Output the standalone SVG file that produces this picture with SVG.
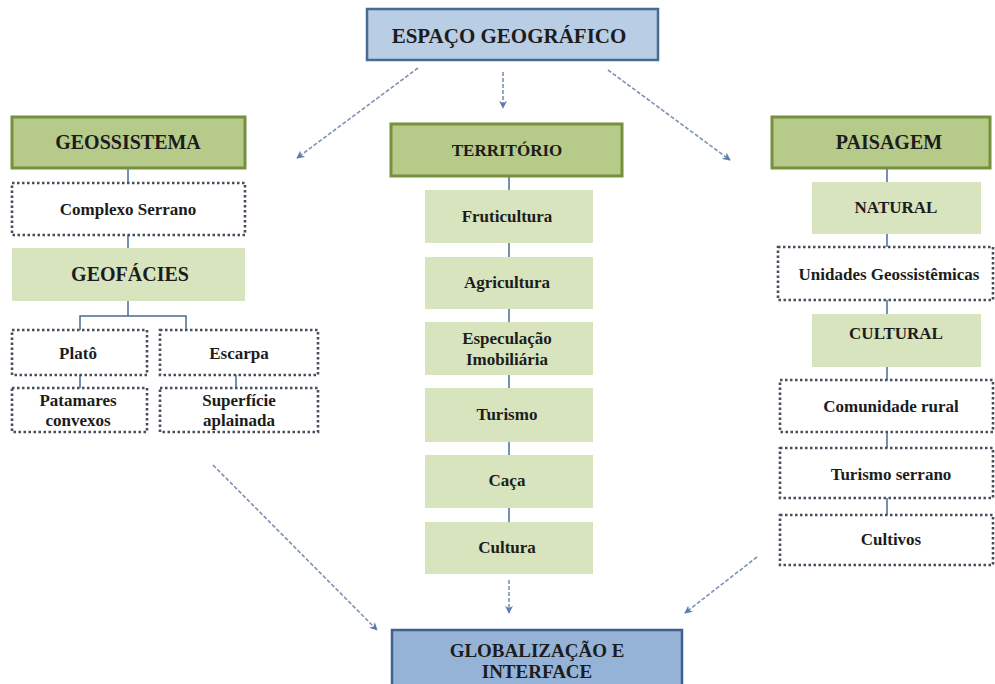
<svg xmlns="http://www.w3.org/2000/svg" width="995" height="684" viewBox="0 0 995 684">
<defs>
<marker id="ah" viewBox="0 0 10 10" refX="9" refY="5" markerWidth="8" markerHeight="8" markerUnits="userSpaceOnUse" orient="auto">
<path d="M0,0 L10,5 L0,10 L3,5 z" fill="#5b7cab"/>
</marker>
<style>
.blue{fill:#b9cde5;stroke:#4a6a96;stroke-width:2.5}
.blue2{fill:#95b3d7;stroke:#3f5f8c;stroke-width:2.5}
.head{fill:#b6ca89;stroke:#76903e;stroke-width:3}
.light{fill:#d8e4bd;stroke:none}
.dot{fill:#ffffff;stroke:#454e5c;stroke-width:2.6;stroke-dasharray:2.5 2.5}
text{font-family:"Liberation Serif","DejaVu Serif",serif;font-weight:bold;fill:#1c1c1c;text-anchor:middle}
.t20{font-size:20px}
.t19{font-size:19px}
.t17{font-size:17px}
.ln{stroke:#4a6b94;stroke-width:1.5;fill:none}
.ar{stroke:#7d92b2;stroke-width:1.6;stroke-dasharray:4 2;fill:none;marker-end:url(#ah)}
</style>
</defs>
<rect width="995" height="684" fill="#ffffff"/>

<g id="connectors">
<line class="ln" x1="128" y1="168" x2="128" y2="183"/>
<line class="ln" x1="128" y1="235" x2="128" y2="248"/>
<polyline class="ln" points="128,301 128,316"/>
<polyline class="ln" points="80,330 80,316 186,316 186,330"/>
<line class="ln" x1="80" y1="375" x2="80" y2="388"/>
<line class="ln" x1="236" y1="375" x2="236" y2="388"/>
<line class="ln" x1="509" y1="176" x2="509" y2="190"/>
<line class="ln" x1="509" y1="243" x2="509" y2="257"/>
<line class="ln" x1="509" y1="309" x2="509" y2="322"/>
<line class="ln" x1="509" y1="375" x2="509" y2="388"/>
<line class="ln" x1="509" y1="442" x2="509" y2="455"/>
<line class="ln" x1="509" y1="508" x2="509" y2="522"/>
<line class="ln" x1="887" y1="168" x2="887" y2="182"/>
<line class="ln" x1="887" y1="234" x2="887" y2="247"/>
<line class="ln" x1="887" y1="300" x2="887" y2="314"/>
<line class="ln" x1="887" y1="367" x2="887" y2="380"/>
<line class="ln" x1="887" y1="432" x2="887" y2="448"/>
<line class="ln" x1="887" y1="498" x2="887" y2="515"/>
<line class="ar" x1="418" y1="68" x2="297" y2="158"/>
<line class="ar" x1="503" y1="72" x2="503" y2="108"/>
<line class="ar" x1="608" y1="70" x2="730" y2="160"/>
<line class="ar" x1="213" y1="465" x2="377" y2="630"/>
<line class="ar" x1="509" y1="580" x2="509" y2="613"/>
<line class="ar" x1="757" y1="557" x2="685" y2="613"/>
</g>

<g id="espaco"><rect class="blue" x="367" y="9" width="291" height="51"/><text x="509" y="43" style="font-size:21px">ESPAÇO GEOGRÁFICO</text></g>

<g id="geossistema"><rect class="head" x="12" y="117" width="233" height="51"/><text class="t20" x="128" y="149">GEOSSISTEMA</text></g>
<g id="complexo"><rect class="dot" x="12" y="183" width="233" height="52"/><text class="t17" x="128" y="215">Complexo Serrano</text></g>
<g id="geofacies"><rect class="light" x="12" y="248" width="233" height="53"/><text class="t20" x="130" y="281">GEOFÁCIES</text></g>
<g id="plato"><rect class="dot" x="12" y="330" width="135" height="45"/><text class="t17" x="78" y="359">Platô</text></g>
<g id="escarpa"><rect class="dot" x="160" y="330" width="158" height="45"/><text class="t17" x="239" y="359">Escarpa</text></g>
<g id="patamares"><rect class="dot" x="12" y="388" width="135" height="44"/><text class="t17" x="78" y="406">Patamares</text><text class="t17" x="78" y="426">convexos</text></g>
<g id="superficie"><rect class="dot" x="160" y="388" width="158" height="44"/><text class="t17" x="239" y="406">Superfície</text><text class="t17" x="239" y="426">aplainada</text></g>

<g id="territorio"><rect class="head" x="391" y="124" width="231" height="52"/><text class="t17" x="507" y="156">TERRITÓRIO</text></g>
<g id="fruticultura"><rect class="light" x="425" y="190" width="168" height="53"/><text class="t17" x="507" y="222">Fruticultura</text></g>
<g id="agricultura"><rect class="light" x="425" y="257" width="168" height="52"/><text class="t17" x="507" y="288">Agricultura</text></g>
<g id="especulacao"><rect class="light" x="425" y="322" width="168" height="53"/><text class="t17" x="507" y="344">Especulação</text><text class="t17" x="507" y="365">Imobiliária</text></g>
<g id="turismo"><rect class="light" x="425" y="388" width="168" height="54"/><text class="t17" x="507" y="420">Turismo</text></g>
<g id="caca"><rect class="light" x="425" y="455" width="168" height="53"/><text class="t17" x="507" y="486">Caça</text></g>
<g id="cultura"><rect class="light" x="425" y="522" width="168" height="52"/><text class="t17" x="507" y="553">Cultura</text></g>

<g id="paisagem"><rect class="head" x="772" y="117" width="218" height="51"/><text class="t20" x="889" y="149">PAISAGEM</text></g>
<g id="natural"><rect class="light" x="812" y="182" width="169" height="52"/><text class="t17" x="896" y="213">NATURAL</text></g>
<g id="unidades"><rect class="dot" x="778" y="247" width="215" height="53"/><text class="t17" x="889" y="280">Unidades Geossistêmicas</text></g>
<g id="cultural"><rect class="light" x="812" y="314" width="169" height="53"/><text class="t17" x="896" y="339">CULTURAL</text></g>
<g id="comunidade"><rect class="dot" x="780" y="380" width="213" height="52"/><text class="t17" x="891" y="412">Comunidade rural</text></g>
<g id="turismo-serrano"><rect class="dot" x="780" y="448" width="213" height="50"/><text class="t17" x="891" y="480">Turismo serrano</text></g>
<g id="cultivos"><rect class="dot" x="780" y="515" width="213" height="50"/><text class="t17" x="891" y="545">Cultivos</text></g>

<g id="globalizacao"><rect class="blue2" x="392" y="630" width="290" height="70"/><text class="t19" x="537" y="657">GLOBALIZAÇÃO E</text><text class="t19" x="537" y="678">INTERFACE</text></g>
</svg>
